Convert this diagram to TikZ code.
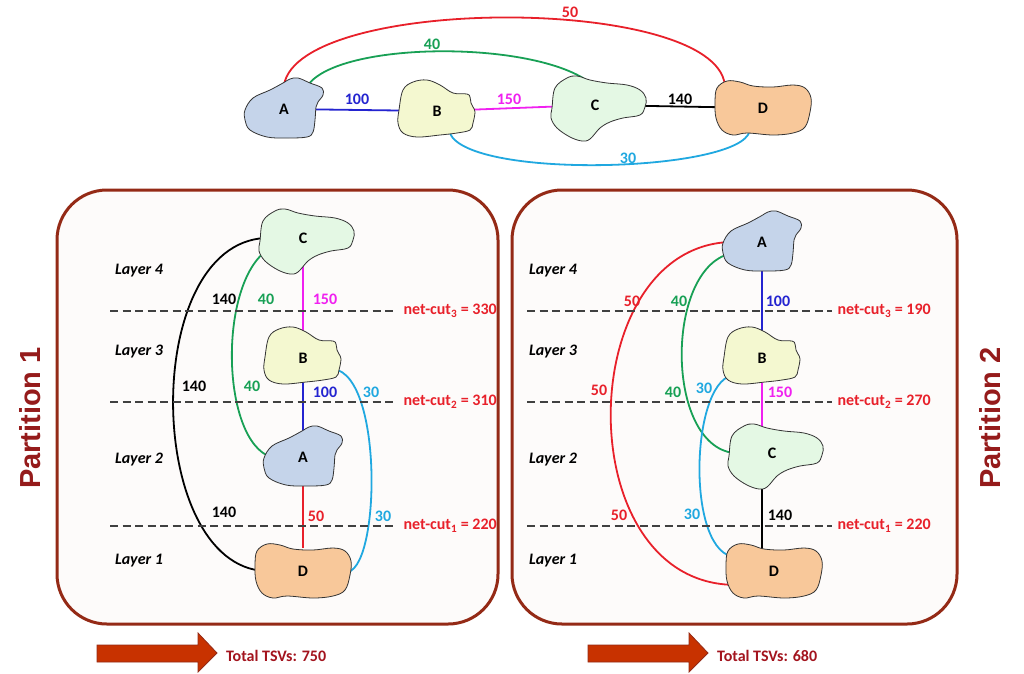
\documentclass[tikz,border=0pt]{standalone}
\usepackage{fontspec}
\setmainfont{Carlito}
\newfontfamily\partfont{Liberation Sans}
\usepackage{tikz}
\usetikzlibrary{backgrounds,calc,positioning}
\pgfdeclarelayer{edges}
\pgfsetlayers{background,edges,main}

\definecolor{fillA}{HTML}{C5D4EA}
\definecolor{fillB}{HTML}{F4F8D0}
\definecolor{fillC}{HTML}{E4F8E4}
\definecolor{fillD}{HTML}{F8C89A}
\definecolor{cred}{HTML}{E8202A}
\definecolor{cgreen}{HTML}{18A055}
\definecolor{cblue}{HTML}{2424D0}
\definecolor{cmag}{HTML}{F020F0}
\definecolor{ccyan}{HTML}{20A8E0}
\definecolor{boxred}{HTML}{942A16}
\definecolor{boxfill}{HTML}{FDFBFA}
\definecolor{partred}{HTML}{951B1B}
\definecolor{arrowfill}{HTML}{C83200}
\definecolor{totalred}{HTML}{A3141E}

% blob outlines, relative to the letter
\newcommand{\shapeA}{(-39,1) (-31,-11) (-14,-19) (-1,-26) (6,-30) (14,-31) (26,-26) (38,-21) (39,-14) (34,-7) (32,-2) (31,11) (29,23) (23,28) (3,29) (-17,28) (-34,21) (-39,11)}
\newcommand{\shapeB}{(-34,-21) (-24,-29) (-10,-31) (3,-26) (16,-18) (30,-17) (33,-14) (34,-8) (36,-4) (38,1) (36,12) (33,19) (20,22) (3,24) (-20,26) (-34,22) (-39,12) (-38,-1)}
\newcommand{\shapeC}{(-43,3) (-40,-17) (-28,-27) (-18,-29) (-5,-25) (12,-22) (32,-20) (45,-15) (51,-7) (50,2) (45,10) (28,13) (15,17) (5,23) (-5,34) (-13,36) (-25,32) (-38,23) (-44,13)}
\newcommand{\shapeD}{(-46,-20) (-36,-27) (-23,-26) (-10,-22) (10,-21) (30,-23) (42,-20) (48,-10) (47,4) (42,19) (30,25) (10,27) (-16,25) (-30,27) (-41,22) (-47,10) (-48,-6)}

\newcommand{\drawblob}[4]{%
  \draw[blobline, fill=fill#3, shift={#4}] plot[smooth cycle, tension=0.6] coordinates {#1};
  \node[blobtext, size#3] (#2) at #4 {#3};}
\newcommand{\blob}[3]{%
  \edef\blobpts{\csname shape#2\endcsname}%
  \expandafter\drawblob\expandafter{\blobpts}{#1}{#2}{#3}}

\tikzset{
  blobline/.style={draw=black!80, line width=0.8pt},
  blobtext/.style={font=\bfseries\fontsize{16}{16}\selectfont, inner sep=0pt, rectangle},
  sizeA/.style={minimum width=64, minimum height=48},
  sizeB/.style={minimum width=60, minimum height=44},
  sizeC/.style={minimum width=76, minimum height=50},
  sizeD/.style={minimum width=76, minimum height=46},
  edge/.style={line width=1.8pt},
  wlabel/.style={font=\bfseries\fontsize{16}{16}\selectfont, inner sep=1pt},
  partbox/.style={draw=boxred, line width=3pt, fill=boxfill, rounded corners=50pt},
  cutline/.style={dash pattern=on 8pt off 4.5pt, draw=black!75, line width=1.2pt},
  cuttext/.style={font=\bfseries\fontsize{16}{16}\selectfont, text=cred, inner sep=0pt},
  layertext/.style={font=\bfseries\itshape\fontsize{16}{16}\selectfont, inner sep=0pt},
  parttext/.style={font=\partfont\bfseries\fontsize{29}{29}\selectfont, text=partred, rotate=90},
  bigarrow/.style={fill=arrowfill, draw=boxred, line width=0.8pt, line join=miter},
  totaltext/.style={font=\bfseries\fontsize{16}{16}\selectfont, text=totalred, inner sep=0pt}
}

\begin{document}
\begin{tikzpicture}[x=1pt, y=-1pt]
\useasboundingbox (0,0) rectangle (1024,673);
\begin{pgfonlayer}{background}
\fill[white] (0,0) rectangle (1024,673);
\draw[partbox] (57,190) rectangle (498,624);
\draw[partbox] (512,190) rectangle (957,624);
\end{pgfonlayer}

% the four blocks, three times
\blob{tA}{A}{(284,109)}
\blob{tB}{B}{(437,111)}
\blob{tC}{C}{(595,105)}
\blob{tD}{D}{(763,108)}
\blob{lC}{C}{(303,238)}
\blob{lB}{B}{(303,358)}
\blob{lA}{A}{(303,457)}
\blob{lD}{D}{(303,571)}
\blob{rA}{A}{(762,242)}
\blob{rB}{B}{(762,358)}
\blob{rC}{C}{(772,453)}
\blob{rD}{D}{(774,571)}

\begin{pgfonlayer}{edges}
% top graph
\draw[edge, cblue] (tA) -- (tB);
\draw[edge, cmag] (tB) -- (tC);
\draw[edge, black] (tC) -- (tD);
\draw[edge, cred] (tA.north) .. controls (300,-5) and (715,-5) .. (tD.north west);
\draw[edge, cgreen] (tA.45) .. controls (340,42) and (525,40) .. (tC.110);
\draw[edge, ccyan] (tB.-60) .. controls (470,180) and (740,172) .. (tD.-120);
% partition 1
\draw[edge, cmag] (lC) -- (lB);
\draw[edge, cblue] (lB) -- (lA);
\draw[edge, cred] (lA) -- (lD);
\draw[edge, black] (lC.west) .. controls (140,245) and (145,565) .. (lD.west);
\draw[edge, cgreen] (lC.200) .. controls (218,290) and (222,440) .. (lA.west);
\draw[edge, ccyan] (lB.-20) .. controls (386,375) and (380,590) .. (lD.east);
% partition 2
\draw[edge, cblue] (rA) -- (rB);
\draw[edge, cmag] (rB) -- (rC -| rB);
\draw[edge, black] (rC -| rB) -- (rD -| rB);
\draw[edge, cred] (rA.west) .. controls (572,248) and (568,585) .. (rD.200);
\draw[edge, cgreen] (rA.200) .. controls (665,270) and (665,445) .. (rC.west);
\draw[edge, ccyan] (rB.-150) .. controls (690,385) and (686,555) .. (rD.160);
% cuts
\foreach \y/\k/\a/\b in {311/3/330/190, 402/2/310/270, 526/1/220/220} {
  \draw[cutline] (110,\y) -- (395,\y) node[cuttext, right=8pt] (lcut\k) {net-cut\textsubscript{\k} = \a};
  \draw[cutline] (527,\y) -- (832,\y) node[cuttext, right=5pt] (rcut\k) {net-cut\textsubscript{\k} = \b};
}
\end{pgfonlayer}

% weights
\node[wlabel, cred] (t50) at (570,12) {50};
\node[wlabel, cgreen] (t40) at (432,44) {40};
\node[wlabel, cblue] (t100) at (357,99) {100};
\node[wlabel, cmag] (t150) at (509,99) {150};
\node[wlabel] (t140) at (680,99) {140};
\node[wlabel, ccyan] (t30) at (628,158) {30};

\node[wlabel, cmag] (l150) at (325,299) {150};
\node[wlabel, cblue] (l100) at (325,392) {100};
\node[wlabel, cred] (l50) at (316,516) {50};
\foreach \p [count=\i] in {(224,299),(194,386),(224,512)}
  \node[wlabel] (l140\i) at \p {140};
\foreach \p [count=\i] in {(266,299),(252,386)}
  \node[wlabel, cgreen] (l40\i) at \p {40};
\foreach \p [count=\i] in {(371,392),(383,516)}
  \node[wlabel, ccyan] (l30\i) at \p {30};

\node[wlabel, cblue] (r100) at (778,301) {100};
\node[wlabel, cmag] (r150) at (780,392) {150};
\node[wlabel] (r140) at (780,515) {140};
\foreach \p [count=\i] in {(632,301),(599,390),(619,515)}
  \node[wlabel, cred] (r50\i) at \p {50};
\foreach \p [count=\i] in {(679,301),(673,392)}
  \node[wlabel, cgreen] (r40\i) at \p {40};
\foreach \p [count=\i] in {(704,388),(692,514)}
  \node[wlabel, ccyan] (r30\i) at \p {30};

% layers
\foreach \y/\n in {271/4, 352/3, 460/2, 561/1} {
  \node[layertext] (lL\n) at (139,\y) {Layer \n};
  \node[layertext] (rL\n) at (553,\y) {Layer \n};
}

\node[parttext] (part1) at (30,418) {Partition 1};
\node[parttext] (part2) at (990,418) {Partition 2};

% totals
\foreach \x/\t in {97/750, 588/680} {
  \draw[bigarrow] (\x,645) -- ++(101,0) -- ++(0,-12) -- ++(19,20) -- ++(-19,19) -- ++(0,-10) -- ++(-101,0) -- cycle;
  \node[totaltext, anchor=west] (tot\t) at (\x+129,656) {Total TSVs: \t};
}
\end{tikzpicture}
\end{document}
